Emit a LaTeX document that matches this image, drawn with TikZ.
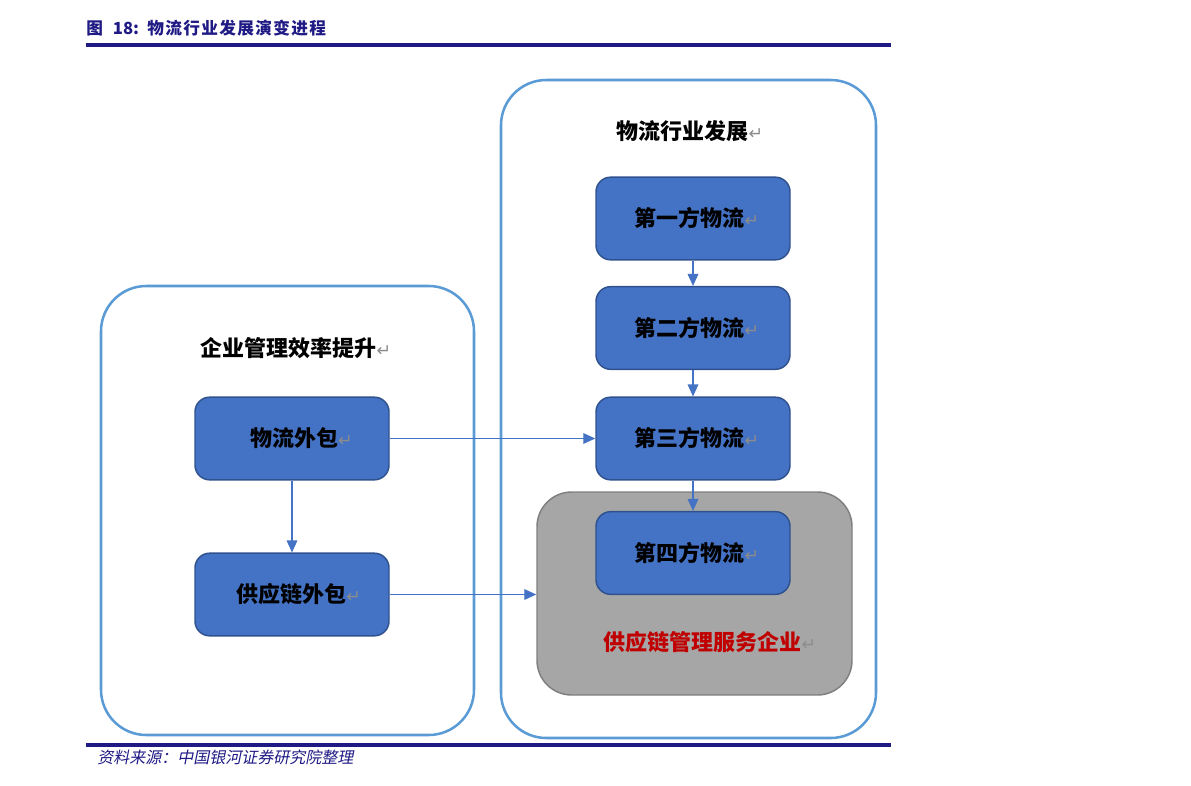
\documentclass[tikz,border=0pt]{standalone}
\usepackage{fontspec}
\setmainfont{Noto Sans CJK SC}
\newfontfamily\cjkslant[FakeSlant=0.2]{Noto Sans CJK SC}
\newfontfamily\dejavu{DejaVu Sans}
\usetikzlibrary{arrows.meta}
\definecolor{navy}{HTML}{1F1A84}
\definecolor{frameblue}{HTML}{5B9BD5}
\definecolor{boxblue}{HTML}{4472C4}
\definecolor{boxborder}{HTML}{2F528F}
\definecolor{arrowblue}{HTML}{4472C4}
\definecolor{grayfill}{HTML}{A6A6A6}
\definecolor{grayborder}{HTML}{7F7F7F}
\definecolor{darkred}{HTML}{C00000}
\definecolor{retgray}{HTML}{8C8C8C}
\newcommand\myret{{\dejavu\mdseries\color{retgray}\fontsize{13}{14}\selectfont ↵}}
\tikzset{
  bigbox/.style={draw=frameblue, line width=1.9pt, rounded corners=34pt, inner sep=0pt},
  bluebox/.style={draw=boxborder, fill=boxblue, line width=1.1pt, rounded corners=11pt,
    minimum width=145.5pt, minimum height=62pt, inner sep=0pt,
    font=\bfseries\fontsize{16.5}{19}\selectfont},
  graybox/.style={draw=grayborder, fill=grayfill, line width=1.1pt, rounded corners=26pt, inner sep=0pt},
  heading/.style={font=\bfseries\fontsize{16.5}{19}\selectfont, inner sep=0pt},
  arr/.style={draw=arrowblue, line width=0.9pt, -{Triangle[length=9pt,width=8pt]}},
  rule/.style={draw=navy, line width=2.3pt},
}
\begin{document}
\begin{tikzpicture}[x=0.75pt, y=-0.75pt]
\useasboundingbox (0,0) rectangle (1191,785);
% title and rules
\node[anchor=west, inner sep=0pt, text=navy, font=\bfseries\fontsize{12.5}{14}\selectfont] (title) at (86,28) {图\hspace{0.6em}18:\hspace{0.5em}物\kern1pt 流\kern1pt 行\kern1pt 业\kern1pt 发\kern1pt 展\kern1pt 演\kern1pt 变\kern1pt 进\kern1pt 程};
\coordinate (tl) at (86,45); \coordinate (tr) at (891,45);
\draw[rule] (tl) -- (tr);
\coordinate (bl) at (86,745); \coordinate (br) at (891,745);
\draw[rule] (bl) -- (br);
\node[anchor=west, inner sep=0pt, text=navy, font=\cjkslant\fontsize{12}{13}\selectfont] (src) at (97,757) {资料来源：中国银河证券研究院整理};
% big frames
\node[bigbox, minimum width=279.75pt, minimum height=336.75pt] (left) at (287.5,510.5) {};
\node[bigbox, minimum width=281.25pt, minimum height=493.5pt] (right) at (688.5,409) {};
% headings
\node[heading] (h1) at (690,131) {物流行业发展\myret};
\node[heading] (h2) at (296,348) {企业管理效率提升\myret};
% gray box
\node[graybox, minimum width=236.25pt, minimum height=152.25pt] (gray) at (694.5,593.5) {};
% blue boxes
\node[bluebox] (b1) at (693,218.5) {\hspace{6pt}第一方物流\myret};
\node[bluebox] (b2) at (693,328) {\hspace{6pt}第二方物流\myret};
\node[bluebox] (b3) at (693,438.5) {\hspace{6pt}第三方物流\myret};
\node[bluebox] (b4) at (693,553) {\hspace{6pt}第四方物流\myret};
\node[bluebox] (w1) at (292,438.5) {\hspace{14pt}物流外包\myret};
\node[bluebox] (w2) at (292,594.5) {\hspace{10pt}供应链外包\myret};
% red label
\node[heading, text=darkred] (red) at (710,642) {供应链管理服务企业\myret};
% arrows
\draw[arr] (b1) -- (b2);
\draw[arr] (b2) -- (b3);
\draw[arr] (b3) -- (b4);
\draw[arr] (w1) -- (b3);
\draw[arr] (w1) -- (w2);
\draw[arr] (w2.east) -- (w2.east -| gray.west);
\end{tikzpicture}
\end{document}
